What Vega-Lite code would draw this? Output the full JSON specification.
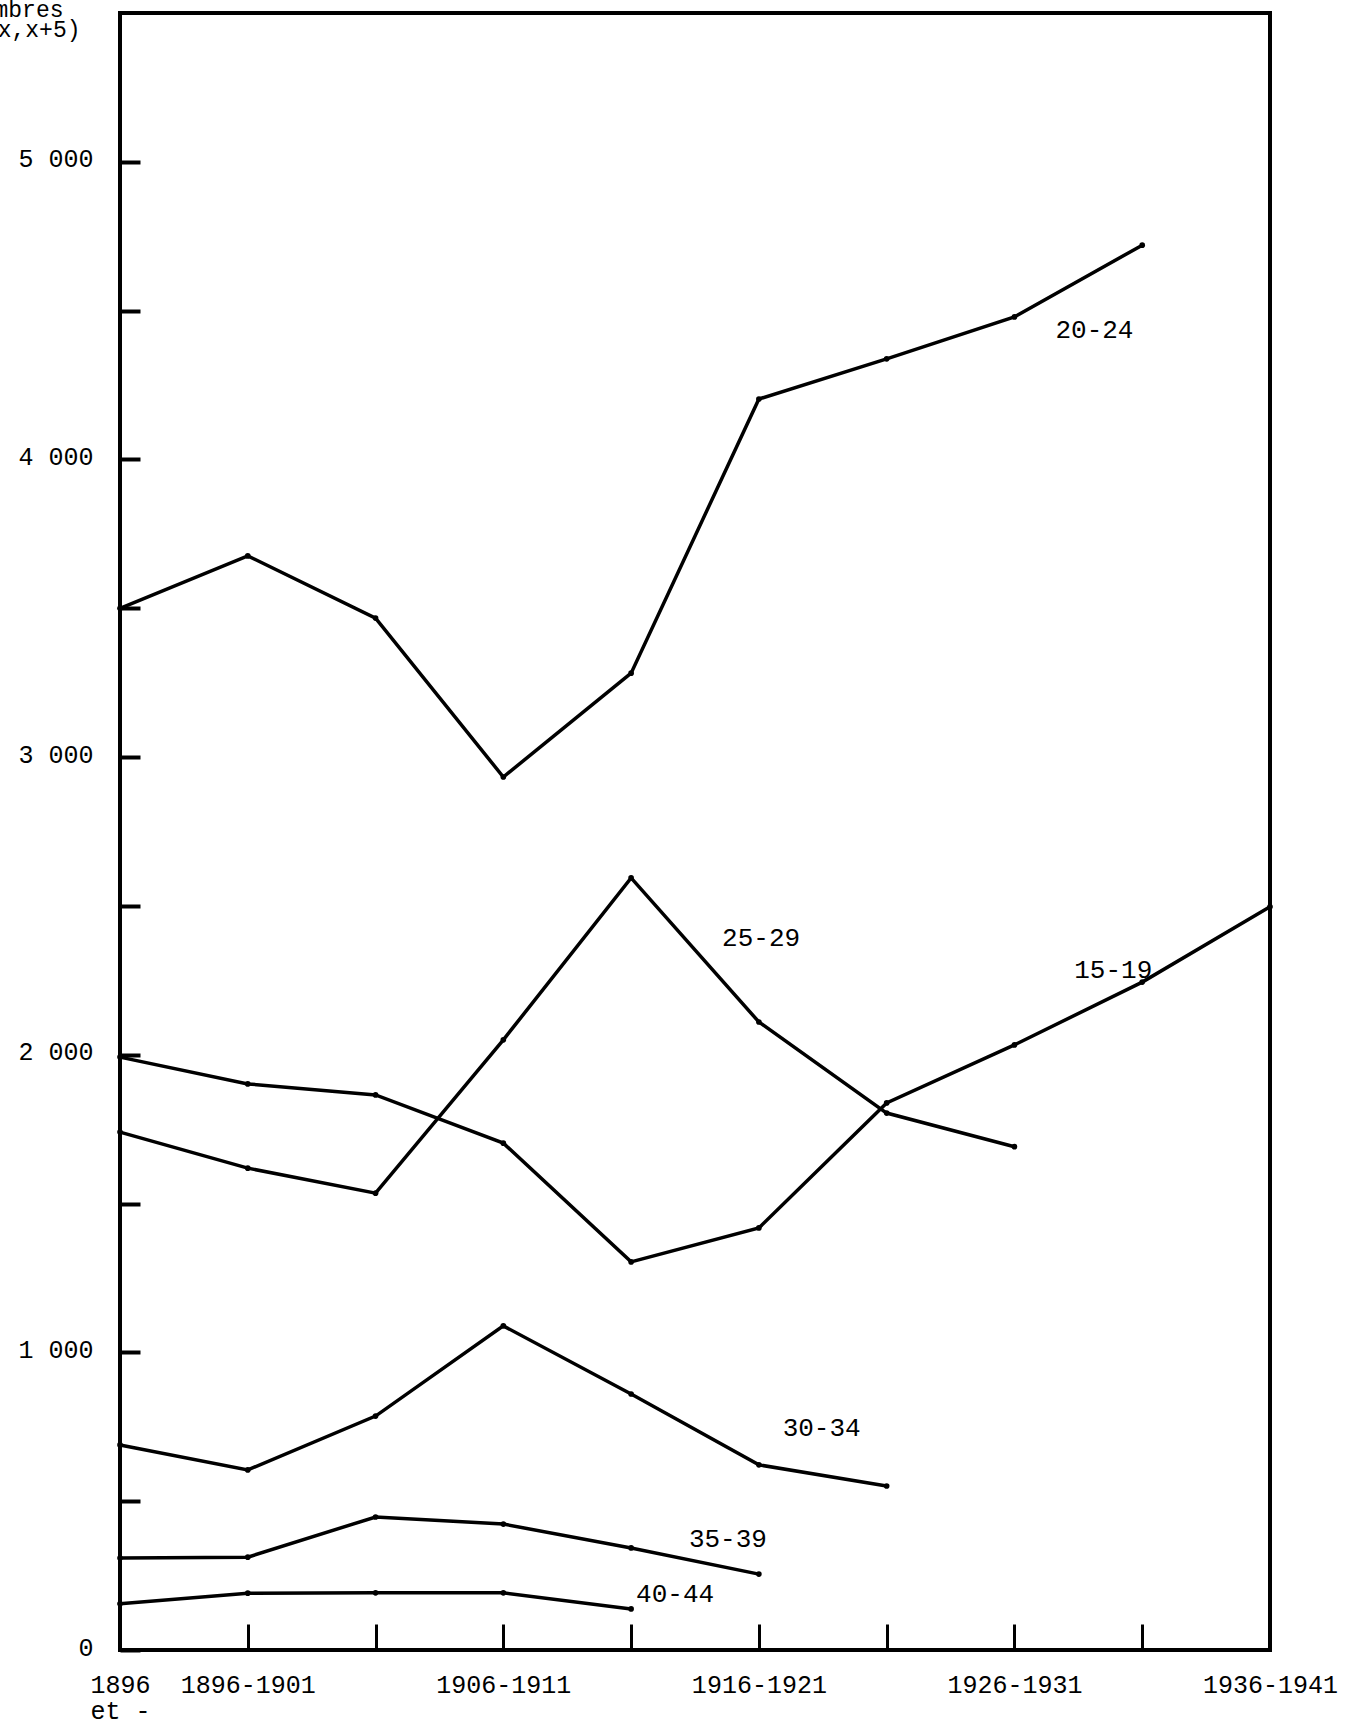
{
  "$schema": "https://vega.github.io/schema/vega-lite/v6.json",
  "autosize": {"type": "none"},
  "padding": {"left": 120, "top": 13, "right": 76, "bottom": 79},
  "width": 1150,
  "height": 1637,
  "background": "white",
  "config": {
    "view": {"stroke": "black", "strokeWidth": 4},
    "font": "Liberation Mono",
    "axis": {
      "grid": false,
      "domain": false,
      "tickColor": "black",
      "labelColor": "black",
      "labelFont": "Liberation Mono",
      "titleFont": "Liberation Mono",
      "titleColor": "black",
      "titleFontSize": 23,
      "titleFontWeight": "normal",
      "titleAngle": 0,
      "titleAlign": "right",
      "titleBaseline": "alphabetic"
    }
  },
  "data": {
    "values": [
      {"age": "15-19", "t": 0, "periode": "1896 et -", "n": 1992},
      {"age": "15-19", "t": 1, "periode": "1896-1901", "n": 1902},
      {"age": "15-19", "t": 2, "periode": "1901-1906", "n": 1865},
      {"age": "15-19", "t": 3, "periode": "1906-1911", "n": 1703},
      {"age": "15-19", "t": 4, "periode": "1911-1916", "n": 1304},
      {"age": "15-19", "t": 5, "periode": "1916-1921", "n": 1418},
      {"age": "15-19", "t": 6, "periode": "1921-1926", "n": 1838},
      {"age": "15-19", "t": 7, "periode": "1926-1931", "n": 2033},
      {"age": "15-19", "t": 8, "periode": "1931-1936", "n": 2244},
      {"age": "15-19", "t": 9, "periode": "1936-1941", "n": 2497},
      {"age": "20-24", "t": 0, "periode": "1896 et -", "n": 3500},
      {"age": "20-24", "t": 1, "periode": "1896-1901", "n": 3676},
      {"age": "20-24", "t": 2, "periode": "1901-1906", "n": 3467},
      {"age": "20-24", "t": 3, "periode": "1906-1911", "n": 2933},
      {"age": "20-24", "t": 4, "periode": "1911-1916", "n": 3282},
      {"age": "20-24", "t": 5, "periode": "1916-1921", "n": 4203},
      {"age": "20-24", "t": 6, "periode": "1921-1926", "n": 4338},
      {"age": "20-24", "t": 7, "periode": "1926-1931", "n": 4479},
      {"age": "20-24", "t": 8, "periode": "1931-1936", "n": 4720},
      {"age": "25-29", "t": 0, "periode": "1896 et -", "n": 1740},
      {"age": "25-29", "t": 1, "periode": "1896-1901", "n": 1619},
      {"age": "25-29", "t": 2, "periode": "1901-1906", "n": 1535},
      {"age": "25-29", "t": 3, "periode": "1906-1911", "n": 2050},
      {"age": "25-29", "t": 4, "periode": "1911-1916", "n": 2594},
      {"age": "25-29", "t": 5, "periode": "1916-1921", "n": 2110},
      {"age": "25-29", "t": 6, "periode": "1921-1926", "n": 1804},
      {"age": "25-29", "t": 7, "periode": "1926-1931", "n": 1691},
      {"age": "30-34", "t": 0, "periode": "1896 et -", "n": 689},
      {"age": "30-34", "t": 1, "periode": "1896-1901", "n": 605},
      {"age": "30-34", "t": 2, "periode": "1901-1906", "n": 786},
      {"age": "30-34", "t": 3, "periode": "1906-1911", "n": 1089},
      {"age": "30-34", "t": 4, "periode": "1911-1916", "n": 860},
      {"age": "30-34", "t": 5, "periode": "1916-1921", "n": 622},
      {"age": "30-34", "t": 6, "periode": "1921-1926", "n": 551},
      {"age": "35-39", "t": 0, "periode": "1896 et -", "n": 309},
      {"age": "35-39", "t": 1, "periode": "1896-1901", "n": 312},
      {"age": "35-39", "t": 2, "periode": "1901-1906", "n": 447},
      {"age": "35-39", "t": 3, "periode": "1906-1911", "n": 423},
      {"age": "35-39", "t": 4, "periode": "1911-1916", "n": 343},
      {"age": "35-39", "t": 5, "periode": "1916-1921", "n": 255},
      {"age": "40-44", "t": 0, "periode": "1896 et -", "n": 155},
      {"age": "40-44", "t": 1, "periode": "1896-1901", "n": 191},
      {"age": "40-44", "t": 2, "periode": "1901-1906", "n": 192},
      {"age": "40-44", "t": 3, "periode": "1906-1911", "n": 192},
      {"age": "40-44", "t": 4, "periode": "1911-1916", "n": 138}
    ]
  },
  "encoding": {
    "x": {
      "field": "t",
      "type": "quantitative",
      "scale": {"domain": [0, 9], "nice": false, "zero": false},
      "axis": {
        "title": "Nombres",
        "titleX": -57,
        "titleY": -1634,
        "values": [0, 1, 2, 3, 4, 5, 6, 7, 8, 9],
        "tickSize": -26,
        "tickWidth": 3,
        "labelPadding": 48,
        "labelFontSize": 25,
        "labelBaseline": "top",
        "labelLineHeight": 26,
        "labelFlush": false,
        "labelOverlap": false,
        "labelBound": false,
        "labelExpr": "datum.value == 0 ? ['1896', 'et -'] : datum.value == 1 ? '1896-1901' : datum.value == 3 ? '1906-1911' : datum.value == 5 ? '1916-1921' : datum.value == 7 ? '1926-1931' : datum.value == 9 ? '1936-1941' : ''"
      }
    },
    "y": {
      "field": "n",
      "type": "quantitative",
      "scale": {"domain": [0, 5500], "nice": false},
      "axis": {
        "title": "(x,x+5)",
        "titleX": -40,
        "titleY": 23,
        "values": [0, 500, 1000, 1500, 2000, 2500, 3000, 3500, 4000, 4500, 5000],
        "tickSize": -20,
        "tickWidth": 4,
        "labelPadding": 47,
        "labelFontSize": 25,
        "labelOffset": -3,
        "labelOverlap": false,
        "labelExpr": "datum.value == 0 ? '0' : datum.value % 1000 == 0 ? replace(format(datum.value, ','), ',', ' ') : ''"
      }
    }
  },
  "layer": [
    {
      "mark": {"type": "line", "color": "black", "strokeWidth": 3.5},
      "encoding": {"detail": {"field": "age"}, "order": {"field": "t"}}
    },
    {
      "mark": {"type": "point", "filled": true, "color": "black", "size": 32, "opacity": 1}
    },
    {
      "transform": [{"filter": "datum.age == '20-24' && datum.t == 7"}],
      "mark": {"type": "text", "fontSize": 26, "align": "center", "baseline": "middle", "dx": 80, "dy": 13},
      "encoding": {"text": {"field": "age"}}
    },
    {
      "transform": [{"filter": "datum.age == '25-29' && datum.t == 4"}],
      "mark": {"type": "text", "fontSize": 26, "align": "center", "baseline": "middle", "dx": 130, "dy": 60},
      "encoding": {"text": {"field": "age"}}
    },
    {
      "transform": [{"filter": "datum.age == '15-19' && datum.t == 8"}],
      "mark": {"type": "text", "fontSize": 26, "align": "center", "baseline": "middle", "dx": -29, "dy": -12},
      "encoding": {"text": {"field": "age"}}
    },
    {
      "transform": [{"filter": "datum.age == '30-34' && datum.t == 6"}],
      "mark": {"type": "text", "fontSize": 26, "align": "center", "baseline": "middle", "dx": -65, "dy": -58},
      "encoding": {"text": {"field": "age"}}
    },
    {
      "transform": [{"filter": "datum.age == '35-39' && datum.t == 5"}],
      "mark": {"type": "text", "fontSize": 26, "align": "center", "baseline": "middle", "dx": -31, "dy": -35},
      "encoding": {"text": {"field": "age"}}
    },
    {
      "transform": [{"filter": "datum.age == '40-44' && datum.t == 4"}],
      "mark": {"type": "text", "fontSize": 26, "align": "center", "baseline": "middle", "dx": 44, "dy": -15},
      "encoding": {"text": {"field": "age"}}
    }
  ]
}
